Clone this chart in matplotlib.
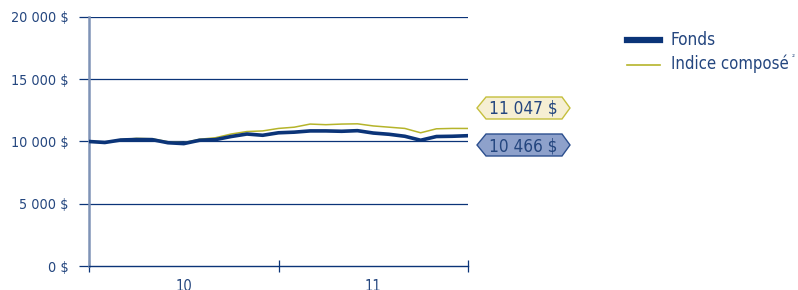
import numpy as np
import matplotlib.pyplot as plt
from matplotlib.patches import Polygon
from matplotlib.lines import Line2D

# monthly values, 25 points over two years
fonds = [10000, 9920, 10120, 10160, 10150, 9900, 9830, 10100, 10150, 10400,
         10600, 10500, 10700, 10750, 10850, 10850, 10820, 10870, 10680, 10580,
         10420, 10100, 10400, 10420, 10466]
indice = [10000, 9950, 10150, 10250, 10220, 9980, 9900, 10180, 10300, 10600,
          10800, 10850, 11050, 11150, 11400, 11350, 11400, 11420, 11250, 11150,
          11050, 10700, 11020, 11050, 11047]
years = ['10', '11']
yticks = [0, 5000, 10000, 15000, 20000]
ylabels = ['0 $', '5 000 $', '10 000 $', '15 000 $', '20 000 $']
series = ['Fonds', 'Indice composé²']
end_labels = ['11 047 $', '10 466 $']

navy = '#0b3478'
olive = '#b5b42a'
txt = '#24467f'
fkw = dict(family='DejaVu Sans', stretch='condensed', color=txt)

W, H = 798, 290
fig = plt.figure(figsize=(W / 100, H / 100), dpi=100)
ax = fig.add_axes([89 / W, 1 - 266 / H, (468 - 89) / W, (266 - 17) / H])

x = np.arange(len(fonds))
ax.plot(x, indice, color=olive, lw=1.1, zorder=3)
ax.plot(x, fonds, color=navy, lw=2.6, zorder=4)

ax.set_xlim(0, len(fonds) - 1)
ax.set_ylim(0, 20000)
ax.set_yticks(yticks)
ax.set_yticklabels(ylabels, fontsize=10.3, **fkw)
for v in yticks[1:]:
    ax.axhline(v, color=navy, lw=0.9, zorder=1)
ax.tick_params(axis='y', length=7, width=0.9, color=navy, pad=8)

ax.set_xticks([0, 12, 24])
ax.set_xticklabels([])
ax.set_xticks([6, 18], minor=True)
ax.set_xticklabels(years, minor=True, fontsize=10.5, **fkw)
ax.tick_params(axis='x', which='major', direction='inout', length=8, width=0.9, color=navy)
ax.tick_params(axis='x', which='minor', length=0, pad=9.5)

for s in ['top', 'right']:
    ax.spines[s].set_visible(False)
ax.spines['bottom'].set_color(navy)
ax.spines['bottom'].set_linewidth(1.0)
ax.spines['left'].set_color('#7f93b6')
ax.spines['left'].set_linewidth(1.8)


def px(xp, yp):
    return xp / W, 1 - yp / H


# end value tags
tags = [(108, '#f6efd3', '#c5bf3c'), (145, '#8ea1cb', '#2c4f8e')]
for (cy, fc, ec), lab in zip(tags, end_labels):
    pts = [px(477, cy), px(486, cy - 11), px(562, cy - 11), px(570, cy),
           px(562, cy + 11), px(486, cy + 11)]
    fig.add_artist(Polygon(pts, closed=True, facecolor=fc, edgecolor=ec,
                           lw=1.0, transform=fig.transFigure))
    fig.text(*px(523, cy + 1), lab, ha='center', va='center', fontsize=12.3, **fkw)

# legend
fig.add_artist(Line2D([627 / W, 660 / W], [1 - 40 / H] * 2, color=navy, lw=4.5))
fig.add_artist(Line2D([627 / W, 660 / W], [1 - 65 / H] * 2, color=olive, lw=1.2))
fig.text(*px(671, 40), series[0], ha='left', va='center', fontsize=12.3, **fkw)
fig.text(*px(671, 64), series[1][:-1], ha='left', va='center', fontsize=12, **fkw)
fig.text(*px(792, 57), series[1][-1], ha='left', va='center', fontsize=6, **fkw)

fig.savefig('out.png', dpi=100)
